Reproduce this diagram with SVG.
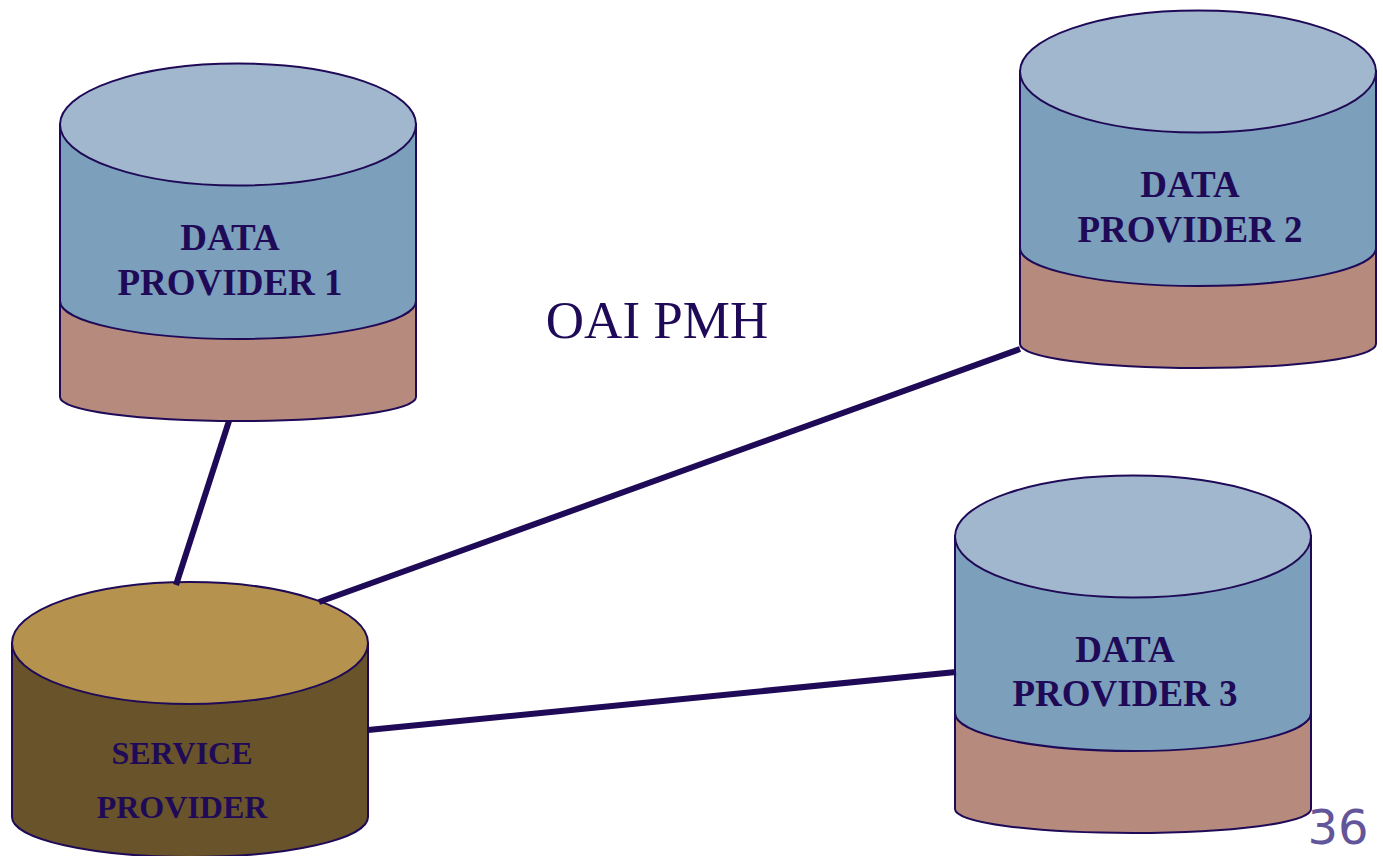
<svg xmlns="http://www.w3.org/2000/svg" width="1383" height="856" viewBox="0 0 1383 856">
<style>
.o{stroke:#1f0a57;stroke-width:2}
.b{fill:#7c9fbc}.t{fill:#a1b7cd}.r{fill:#b68a7d}
.l{font-family:"Liberation Serif",serif;font-weight:bold;font-size:37px;fill:#1f0a57;text-anchor:middle}
.c{stroke:#1f0a57;stroke-width:6;fill:none}
</style>
<defs>
<g id="dp">
<path class="o r" d="M60 290V397C60 411 140 421 238 421S416 411 416 397V290Z"/>
<path class="o b" d="M60 124V301C60 322 140 339 238 339S416 322 416 301V124Z"/>
<ellipse class="o t" cx="238" cy="124.500" rx="178" ry="61"/>
</g>
</defs>
<rect width="1383" height="856" fill="#fff"/>
<g id="provider1"><use href="#dp"/>
<text class="l" x="230" y="250">DATA</text><text class="l" x="230" y="295">PROVIDER 1</text></g>
<g id="provider2"><use href="#dp" x="960" y="-53"/>
<text class="l" x="1190" y="197">DATA</text><text class="l" x="1190" y="242">PROVIDER 2</text></g>
<g id="provider3"><use href="#dp" x="895" y="412"/>
<text class="l" x="1125" y="662">DATA</text><text class="l" x="1125" y="706">PROVIDER 3</text></g>
<g id="service">
<path class="o" fill="#69532b" d="M12 643V817C12 839 92 857 190 857S368 839 368 817V643Z"/>
<ellipse class="o" fill="#b5934f" cx="190" cy="643" rx="178" ry="61"/>
<text class="l" style="font-size:32px" x="182" y="764">SERVICE</text><text class="l" style="font-size:32px" x="182" y="818">PROVIDER</text>
</g>
<g id="connectors">
<line class="c" x1="229" y1="421" x2="176" y2="585"/>
<line class="c" x1="1020" y1="349" x2="319" y2="602"/>
<line class="c" x1="956" y1="672" x2="368" y2="730"/>
</g>
<text id="oai" x="657" y="338" font-family="'Liberation Serif',serif" font-size="53" fill="#1f0a57" text-anchor="middle">OAI PMH</text>
<text id="page" x="1338" y="844" font-family="'DejaVu Sans',sans-serif" font-size="48" fill="#63559a" text-anchor="middle">36</text>
</svg>
